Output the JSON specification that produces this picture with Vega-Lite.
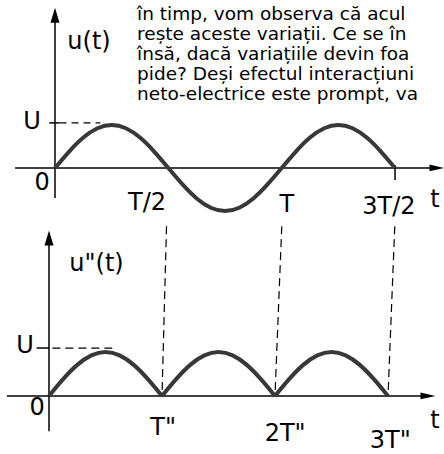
{
  "$schema": "https://vega.github.io/schema/vega-lite/v6.json",
  "background": "white",
  "padding": 0,
  "spacing": 0,
  "config": {"view": {"stroke": null}, "axis": {"disable": true}},
  "resolve": {"scale": {"x": "independent", "y": "independent"}},
  "vconcat": [
    {
      "width": 444,
      "height": 225,
      "encoding": {
        "x": {"field": "x", "type": "quantitative", "scale": {"domain": [-0.2426, 1.716], "nice": false, "zero": false}},
        "y": {"field": "y", "type": "quantitative", "scale": {"domain": [-1.3256, 3.907], "nice": false, "zero": false}}
      },
      "layer": [
        {
          "data": {"values": [
            {"x": -0.176, "x2": 1.66, "y": 0, "y2": 0},
            {"x": 0, "x2": 0, "y": -0.7, "y2": 3.5},
            {"x": -0.025, "x2": 0.02, "y": 1.05, "y2": 1.05},
            {"x": 1.5, "x2": 1.5, "y": 0.07, "y2": -0.28}
          ]},
          "mark": {"type": "rule", "color": "black", "strokeWidth": 1.5},
          "encoding": {"x2": {"field": "x2"}, "y2": {"field": "y2"}}
        },
        {
          "data": {"values": [
            {"x": 0.02, "x2": 0.2, "y": 1.05, "y2": 1.05}
          ]},
          "mark": {"type": "rule", "color": "black", "strokeWidth": 1.2, "strokeDash": [7, 5]},
          "encoding": {"x2": {"field": "x2"}, "y2": {"field": "y2"}}
        },
        {
          "data": {"values": [
            {"x": 0, "y": 3.55, "s": "M-0.6,1L0,-1L0.6,1Z"},
            {"x": 1.685, "y": 0, "s": "M-1,-0.45L1,0L-1,0.45Z"}
          ]},
          "mark": {"type": "point", "filled": true, "color": "black", "size": 225, "opacity": 1},
          "encoding": {"shape": {"field": "s", "type": "nominal", "scale": null}}
        },
        {
          "data": {"values": [
            {"x": 0, "y": 0}, {"x": 0.0625, "y": 0.3827}, {"x": 0.125, "y": 0.7071}, {"x": 0.1875, "y": 0.9239},
            {"x": 0.25, "y": 1}, {"x": 0.3125, "y": 0.9239}, {"x": 0.375, "y": 0.7071}, {"x": 0.4375, "y": 0.3827},
            {"x": 0.5, "y": 0}, {"x": 0.5625, "y": -0.3827}, {"x": 0.625, "y": -0.7071}, {"x": 0.6875, "y": -0.9239},
            {"x": 0.75, "y": -1}, {"x": 0.8125, "y": -0.9239}, {"x": 0.875, "y": -0.7071}, {"x": 0.9375, "y": -0.3827},
            {"x": 1, "y": 0}, {"x": 1.0625, "y": 0.3827}, {"x": 1.125, "y": 0.7071}, {"x": 1.1875, "y": 0.9239},
            {"x": 1.25, "y": 1}, {"x": 1.3125, "y": 0.9239}, {"x": 1.375, "y": 0.7071}, {"x": 1.4375, "y": 0.3827},
            {"x": 1.5, "y": 0}
          ]},
          "mark": {"type": "line", "color": "#383838", "strokeWidth": 4, "interpolate": "natural"},
          "encoding": {}
        },
        {
          "data": {"values": [
            {"x": 0.15, "y": 2.93, "label": "u(t)"},
            {"x": -0.101, "y": 1.07, "label": "U"},
            {"x": -0.057, "y": -0.35, "label": "0"},
            {"x": 0.406, "y": -0.81, "label": "T/2"},
            {"x": 1.023, "y": -0.86, "label": "T"},
            {"x": 1.473, "y": -0.91, "label": "3T/2"},
            {"x": 1.676, "y": -0.74, "label": "t"}
          ]},
          "mark": {"type": "text", "font": "DejaVu Sans", "fontSize": 24, "color": "black", "align": "center", "baseline": "middle"},
          "encoding": {"text": {"field": "label"}}
        },
        {
          "data": {"values": [
            {"x": 0.362, "y": 3.581, "label": "în timp, vom observa că acul"},
            {"x": 0.362, "y": 3.116, "label": "rește aceste variații. Ce se în"},
            {"x": 0.362, "y": 2.651, "label": "însă, dacă variațiile devin foa"},
            {"x": 0.362, "y": 2.186, "label": "pide? Deși efectul interacțiuni"},
            {"x": 0.362, "y": 1.721, "label": "neto-electrice este prompt, va"}
          ]},
          "mark": {"type": "text", "font": "DejaVu Sans", "fontSize": 18.5, "color": "black", "align": "left", "baseline": "middle", "clip": true},
          "encoding": {"text": {"field": "label"}}
        }
      ]
    },
    {
      "width": 444,
      "height": 229,
      "encoding": {
        "x": {"field": "x", "type": "quantitative", "scale": {"domain": [-0.4336, 3.4956], "nice": false, "zero": false}},
        "y": {"field": "y", "type": "quantitative", "scale": {"domain": [-1.341, 3.8636], "nice": false, "zero": false}}
      },
      "layer": [
        {
          "data": {"values": [
            {"x": -0.372, "x2": 3.36, "y": 0, "y2": 0},
            {"x": 0, "x2": 0, "y": -0.8, "y2": 3.5},
            {"x": -0.11, "x2": 0.0, "y": 1.09, "y2": 1.09}
          ]},
          "mark": {"type": "rule", "color": "black", "strokeWidth": 1.5},
          "encoding": {"x2": {"field": "x2"}, "y2": {"field": "y2"}}
        },
        {
          "data": {"values": [
            {"x": 0.03, "x2": 0.56, "y": 1.09, "y2": 1.09},
            {"x": 1.04, "x2": 1.0, "y": 3.86, "y2": 0},
            {"x": 2.06, "x2": 2.0, "y": 3.86, "y2": 0},
            {"x": 3.06, "x2": 3.0, "y": 3.86, "y2": 0}
          ]},
          "mark": {"type": "rule", "color": "black", "strokeWidth": 1.2, "strokeDash": [8, 5]},
          "encoding": {"x2": {"field": "x2"}, "y2": {"field": "y2"}}
        },
        {
          "data": {"values": [
            {"x": 0, "y": 3.59, "s": "M-0.6,1L0,-1L0.6,1Z"},
            {"x": 3.354, "y": 0, "s": "M-1,-0.45L1,0L-1,0.45Z"}
          ]},
          "mark": {"type": "point", "filled": true, "color": "black", "size": 225, "opacity": 1},
          "encoding": {"shape": {"field": "s", "type": "nominal", "scale": null}}
        },
        {
          "data": {"values": [
            {"x": 0, "y": 0, "g": 1}, {"x": 0.125, "y": 0.3827, "g": 1}, {"x": 0.25, "y": 0.7071, "g": 1}, {"x": 0.375, "y": 0.9239, "g": 1},
            {"x": 0.5, "y": 1, "g": 1}, {"x": 0.625, "y": 0.9239, "g": 1}, {"x": 0.75, "y": 0.7071, "g": 1}, {"x": 0.875, "y": 0.3827, "g": 1},
            {"x": 1, "y": 0, "g": 1},
            {"x": 1, "y": 0, "g": 2}, {"x": 1.125, "y": 0.3827, "g": 2}, {"x": 1.25, "y": 0.7071, "g": 2}, {"x": 1.375, "y": 0.9239, "g": 2},
            {"x": 1.5, "y": 1, "g": 2}, {"x": 1.625, "y": 0.9239, "g": 2}, {"x": 1.75, "y": 0.7071, "g": 2}, {"x": 1.875, "y": 0.3827, "g": 2},
            {"x": 2, "y": 0, "g": 2},
            {"x": 2, "y": 0, "g": 3}, {"x": 2.125, "y": 0.3827, "g": 3}, {"x": 2.25, "y": 0.7071, "g": 3}, {"x": 2.375, "y": 0.9239, "g": 3},
            {"x": 2.5, "y": 1, "g": 3}, {"x": 2.625, "y": 0.9239, "g": 3}, {"x": 2.75, "y": 0.7071, "g": 3}, {"x": 2.875, "y": 0.3827, "g": 3},
            {"x": 3, "y": 0, "g": 3}
          ]},
          "mark": {"type": "line", "color": "#383838", "strokeWidth": 4, "interpolate": "natural"},
          "encoding": {"detail": {"field": "g", "type": "nominal"}}
        },
        {
          "data": {"values": [
            {"x": 0.42, "y": 3.0, "label": "u\"(t)"},
            {"x": -0.212, "y": 1.136, "label": "U"},
            {"x": -0.106, "y": -0.27, "label": "0"},
            {"x": 1.01, "y": -0.73, "label": "T\""},
            {"x": 2.09, "y": -0.86, "label": "2T\""},
            {"x": 3.02, "y": -1.02, "label": "3T\""},
            {"x": 3.416, "y": -0.57, "label": "t"}
          ]},
          "mark": {"type": "text", "font": "DejaVu Sans", "fontSize": 24, "color": "black", "align": "center", "baseline": "middle"},
          "encoding": {"text": {"field": "label"}}
        }
      ]
    }
  ]
}
